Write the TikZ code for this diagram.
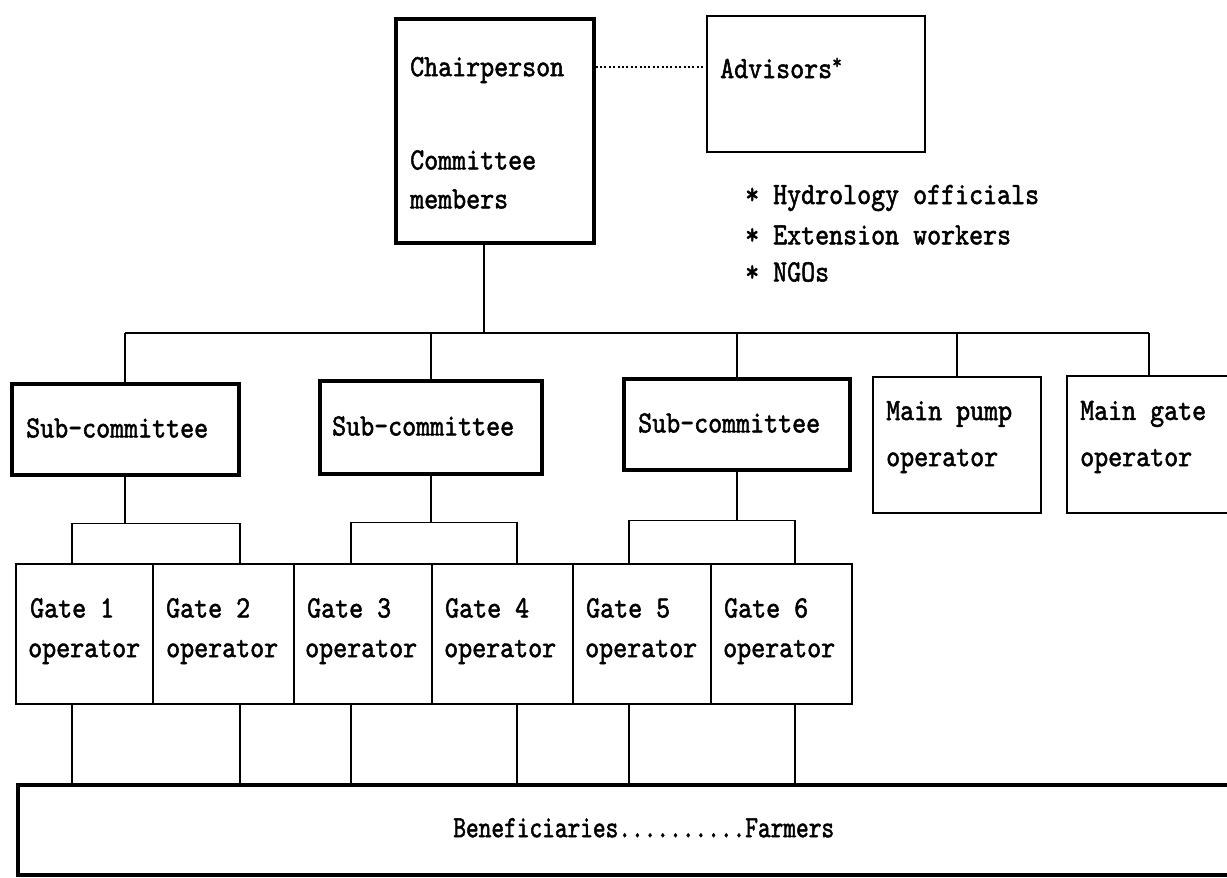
\documentclass[tikz,border=0pt]{standalone}
\usepackage{fontspec}
\newfontfamily\reffont[FakeStretch=0.86,FakeBold=1.6]{lmmono10-regular.otf}
\newfontfamily\benfont[FakeStretch=0.78,FakeBold=1.6]{lmmono10-regular.otf}
\usetikzlibrary{calc}
\tikzset{
  thickbox/.style={draw, line width=3.5pt, anchor=north west, inner sep=0pt},
  thinbox/.style={draw, line width=1.6pt, anchor=north west, inner sep=0pt},
  lbl/.style={font={\reffont\fontsize{31}{36}\selectfont}, anchor=west, inner sep=0pt},
  conn/.style={line width=1.8pt},
  dotconn/.style={line width=2.2pt, dash pattern=on 2pt off 2.4pt},
}
\begin{document}
\begin{tikzpicture}[x=1pt,y=-1pt]
\useasboundingbox (0,0) rectangle (1227,878);
% boxes
\node[thickbox, minimum width=198pt, minimum height=224pt] (chair) at (394,17) {};
\node[thinbox, minimum width=218pt, minimum height=136pt] (adv) at (706,15) {};
\node[thickbox, minimum width=227pt, minimum height=91pt] (sub1) at (10,382) {};
\node[thickbox, minimum width=222pt, minimum height=93pt] (sub2) at (318,379) {};
\node[thickbox, minimum width=226pt, minimum height=91pt] (sub3) at (622,377) {};
\node[thinbox, minimum width=168pt, minimum height=136pt] (pump) at (872,376) {};
\node[thinbox, minimum width=164pt, minimum height=137pt] (gop) at (1066,375) {};
\node[thinbox, minimum width=137pt, minimum height=140pt] (g1) at (15,563) {};
\node[thinbox, minimum width=141pt, minimum height=140pt] (g2) at (152,563) {};
\node[thinbox, minimum width=138pt, minimum height=140pt] (g3) at (293,563) {};
\node[thinbox, minimum width=141pt, minimum height=140pt] (g4) at (431,563) {};
\node[thinbox, minimum width=138pt, minimum height=140pt] (g5) at (572,563) {};
\node[thinbox, minimum width=141pt, minimum height=140pt] (g6) at (710,563) {};
\node[thickbox, minimum width=1216pt, minimum height=90pt] (ben) at (16,783) {};
% texts
\node[lbl] (tchair) at (410,70) {Chairperson};
\node[lbl] (tcomm) at (410,160) {Committee};
\node[lbl] (tmemb) at (410,199) {members};
\node[lbl] (tadv) at (720,68) {Advisors\textsuperscript{*}};
\node[lbl] (th1) at (745,198) {* Hydrology officials};
\node[lbl] (th2) at (745,235) {* Extension workers};
\node[lbl] (th3) at (745,272) {* NGOs};
\node[lbl] (ts1) at (26,428) {Sub-committee};
\node[lbl] (ts2) at (332,426) {Sub-committee};
\node[lbl] (ts3) at (638,423) {Sub-committee};
\node[lbl] (tp1) at (886,414) {Main pump};
\node[lbl] (tp2) at (886,461) {operator};
\node[lbl] (tq1) at (1080,414) {Main gate};
\node[lbl] (tq2) at (1080,461) {operator};
\node[lbl] (tg1a) at (30,608) {Gate 1};
\node[lbl] (tg1b) at (28,652) {operator};
\node[lbl] (tg2a) at (166,608) {Gate 2};
\node[lbl] (tg2b) at (166,652) {operator};
\node[lbl] (tg3a) at (307,608) {Gate 3};
\node[lbl] (tg3b) at (305,652) {operator};
\node[lbl] (tg4a) at (445,608) {Gate 4};
\node[lbl] (tg4b) at (444,652) {operator};
\node[lbl] (tg5a) at (586,608) {Gate 5};
\node[lbl] (tg5b) at (585,652) {operator};
\node[lbl] (tg6a) at (724,608) {Gate 6};
\node[lbl] (tg6b) at (723,652) {operator};
\node[lbl, anchor=center, font={\benfont\fontsize{31}{36}\selectfont}] (tben) at ($(ben.center)+(18,-2)$) {Beneficiaries..........Farmers};
% connectors
\coordinate (dl) at (0,67);
\draw[dotconn] (chair.east |- dl) -- (adv.west |- dl);
\coordinate (bus) at (0,333);
\draw[conn, line width=2.4pt] ([xshift=-11pt]chair.south) -- ([xshift=-11pt]chair.south |- bus);
\draw[conn, line width=1.4pt] (sub1.north |- bus) -- (gop.north |- bus);
\foreach \n in {sub1,sub2,sub3,pump,gop}{
  \draw[conn] (\n.north) -- (\n.north |- bus);
}
\draw[conn] (sub1.south) -- ++(0,47) coordinate (t1);
\draw[conn] (sub2.south) -- ++(0,47) coordinate (t2);
\draw[conn] (sub3.south) -- ++(0,49) coordinate (t3);
\draw[conn] ([xshift=-12pt]g1.north) |- (t1) -| ([xshift=17pt]g2.north);
\draw[conn] ([xshift=-12pt]g3.north) |- (t2) -| ([xshift=15pt]g4.north);
\draw[conn] ([xshift=-13pt]g5.north) |- (t3) -| ([xshift=14pt]g6.north);
\draw[conn] ([xshift=-12pt]g1.south) -- ([xshift=-12pt]g1.south |- ben.north);
\draw[conn] ([xshift=17pt]g2.south) -- ([xshift=17pt]g2.south |- ben.north);
\draw[conn] ([xshift=-12pt]g3.south) -- ([xshift=-12pt]g3.south |- ben.north);
\draw[conn] ([xshift=15pt]g4.south) -- ([xshift=15pt]g4.south |- ben.north);
\draw[conn] ([xshift=-13pt]g5.south) -- ([xshift=-13pt]g5.south |- ben.north);
\draw[conn] ([xshift=14pt]g6.south) -- ([xshift=14pt]g6.south |- ben.north);
\end{tikzpicture}
\end{document}
